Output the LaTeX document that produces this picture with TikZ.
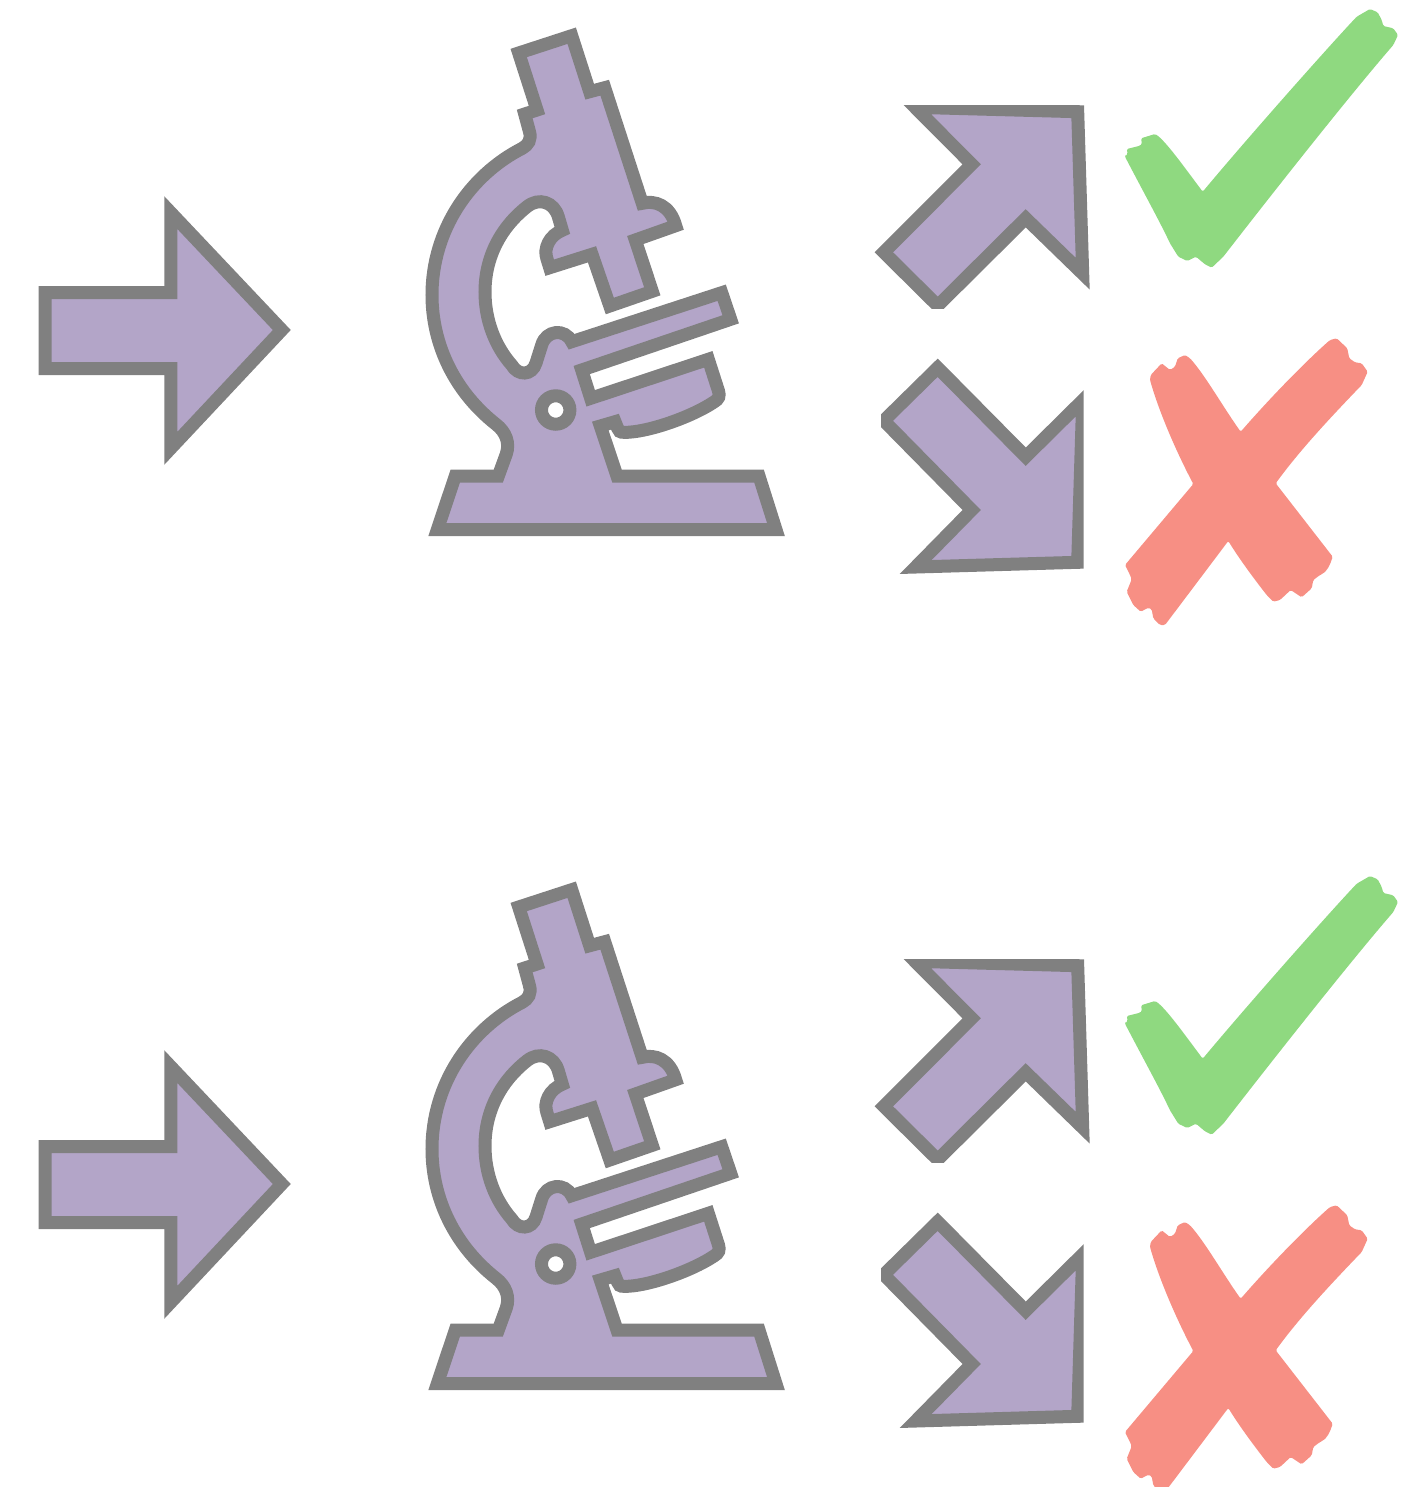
\documentclass[tikz,border=0pt]{standalone}
\definecolor{iconfill}{RGB}{179,165,200}
\definecolor{iconline}{RGB}{128,128,128}
\definecolor{okgreen}{RGB}{143,217,128}
\definecolor{badred}{RGB}{247,143,132}
\tikzset{
	icon/.style={draw=iconline,fill=iconfill,line width=0.13cm,miter limit=10},
	inarrow/.pic={
		\draw[icon] (45.2,292.5) -- (170.8,292.5) -- (170.8,212.6) -- (281.8,330)
			-- (170.8,448.3) -- (170.8,368.5) -- (45.2,368.5) -- cycle;
	},
	uparrow/.pic={
		\begin{scope}
			\clip (860,105) rectangle (1095,308);
			\draw[icon] (915,107.3) -- (971.7,164.3) -- (883.8,252.3) -- (937.7,305.7)
				-- (1025.7,218.3) -- (1082.7,273.7) -- (1077.7,111.7) -- cycle;
		\end{scope}
	},
	downarrow/.pic={
		\begin{scope}
			\clip (881,350) rectangle (1083.5,580);
			\draw[icon] (915.7,567) -- (971.7,510) -- (883.8,420.7) -- (937.7,367.7)
				-- (1025.7,456.7) -- (1082.7,400.3) -- (1077.7,562.3) -- cycle;
		\end{scope}
	},
	microscope/.pic={
		\draw[icon] (518.7,53) -- (571.7,35.7) -- (589.7,91.7) -- (604.7,87.7) -- (642.3,203.3)
			.. controls (655,200) and (670,205) .. (675.7,225.7)
			-- (635.3,240) -- (652.3,291.3) -- (609.8,306) -- (592,254.3) -- (549.7,267.7) -- (547,259)
			.. controls (543,248) and (550,235) .. (562.3,230.3) -- (558.3,216.7)
			.. controls (554,202) and (539,197) .. (527,206.7)
			.. controls (500,228) and (485,258) .. (485,292)
			.. controls (485,320) and (495,346) .. (511.7,365)
			.. controls (518,376) and (532,376) .. (536,363) -- (541.7,345)
			.. controls (546,330) and (565,328) .. (571.7,341.7)
			-- (721.7,292.7) -- (730.7,319.3) -- (581.7,370) -- (590.7,398.3) -- (708.3,359.3) -- (718.5,391)
			.. controls (720,396) and (719,399) .. (714,402)
			.. controls (690,418) and (645,433) .. (624,432.3)
			.. controls (620,432.5) and (618.5,431) .. (617.5,428)
			-- (615,421.7) -- (600.3,426) -- (617,476) -- (759,476) -- (776,529.7)
			-- (437.3,529.7) -- (455.3,476) -- (498.3,476) -- (506.3,454)
			.. controls (510,443) and (506,432) .. (496,424.3)
			.. controls (455,392) and (432,345) .. (432,295)
			.. controls (432,230) and (470,175) .. (522.3,148.3)
			.. controls (528,145) and (532,140) .. (529.3,131)
			-- (524.7,114) -- (537,110) -- cycle;
		\draw[draw=iconline,fill=white,line width=0.13cm] (555.7,410) circle (0.142cm);
	},
	tick/.pic={
		\fill[okgreen,rounded corners=0.4pt] (1125,156.7) -- (1127.7,154) -- (1126.7,149) -- (1140,145.7)
			-- (1142,144) -- (1141,138.3) -- (1155,134)
			.. controls (1165,140) and (1185,168) .. (1202.7,191.7)
			.. controls (1250,135) and (1330,45) .. (1356.7,16.7)
			-- (1370,9) -- (1377.7,12.3) -- (1381.7,20) -- (1383.3,26) -- (1393.3,28.3)
			-- (1398,35) -- (1393.3,45)
			.. controls (1350,95) and (1275,190) .. (1223.3,256.7)
			-- (1211.7,267.7) -- (1205,264.3) -- (1196,256.7) -- (1187.3,261)
			-- (1178.3,256.7) -- (1170,243.3)
			.. controls (1160,222) and (1145,195) .. (1125,156.7) -- cycle;
	},
	cross/.pic={
		\fill[badred,rounded corners=0.4pt] (1150,380) -- (1150.7,375) -- (1161.7,363.3) -- (1170,370)
			-- (1175,366.7) -- (1177.7,358.3) -- (1185,355) -- (1190,358.3)
			.. controls (1205,375) and (1225,410) .. (1240.7,431.7)
			.. controls (1270,398) and (1305,362) .. (1330,340)
			-- (1336.7,338.3) -- (1347.3,348.3) -- (1349.3,358.3) -- (1355,362.3) -- (1361.7,363.3)
			-- (1367.7,371.7) -- (1361.7,385)
			.. controls (1330,418) and (1300,450) .. (1275.7,483.3) -- (1332.7,556.7)
			.. controls (1330,565) and (1327,572) .. (1320,575)
			-- (1313.3,580) -- (1311.7,588.3) -- (1301.7,597.3) -- (1290.7,590) -- (1280,600)
			-- (1273.3,601.7) -- (1266.7,595)
			.. controls (1255,580) and (1240,560) .. (1228.3,541)
			-- (1165,625) -- (1160,625) -- (1153.3,618.3) -- (1151.7,609.3)
			-- (1148.3,607.7) -- (1140.7,611.7) -- (1133.3,605) -- (1126.7,591.7) -- (1131.7,579.3)
			-- (1130,575) -- (1125,565) -- (1193.3,484)
			.. controls (1178,455) and (1160,415) .. (1150,380) -- cycle;
	}
}
\begin{document}
\begin{tikzpicture}[x=0.01cm,y=-0.01cm]
	\useasboundingbox (0,0) rectangle (1424,1487);
	\clip (0,0) rectangle (1424,1487);
	% upper row
	\pic at (0,0) {inarrow};
	\pic at (0,0) {microscope};
	\pic at (0,0) {uparrow};
	\pic at (0,0) {downarrow};
	\pic at (0,0) {tick};
	\pic at (0,0) {cross};
	% lower row
	\pic at (0,854) {inarrow};
	\pic at (0,854) {microscope};
	\pic at (0,854) {uparrow};
	\pic at (0,854) {downarrow};
	\pic at (0,867) {tick};
	\pic at (0,867) {cross};
\end{tikzpicture}
\end{document}
